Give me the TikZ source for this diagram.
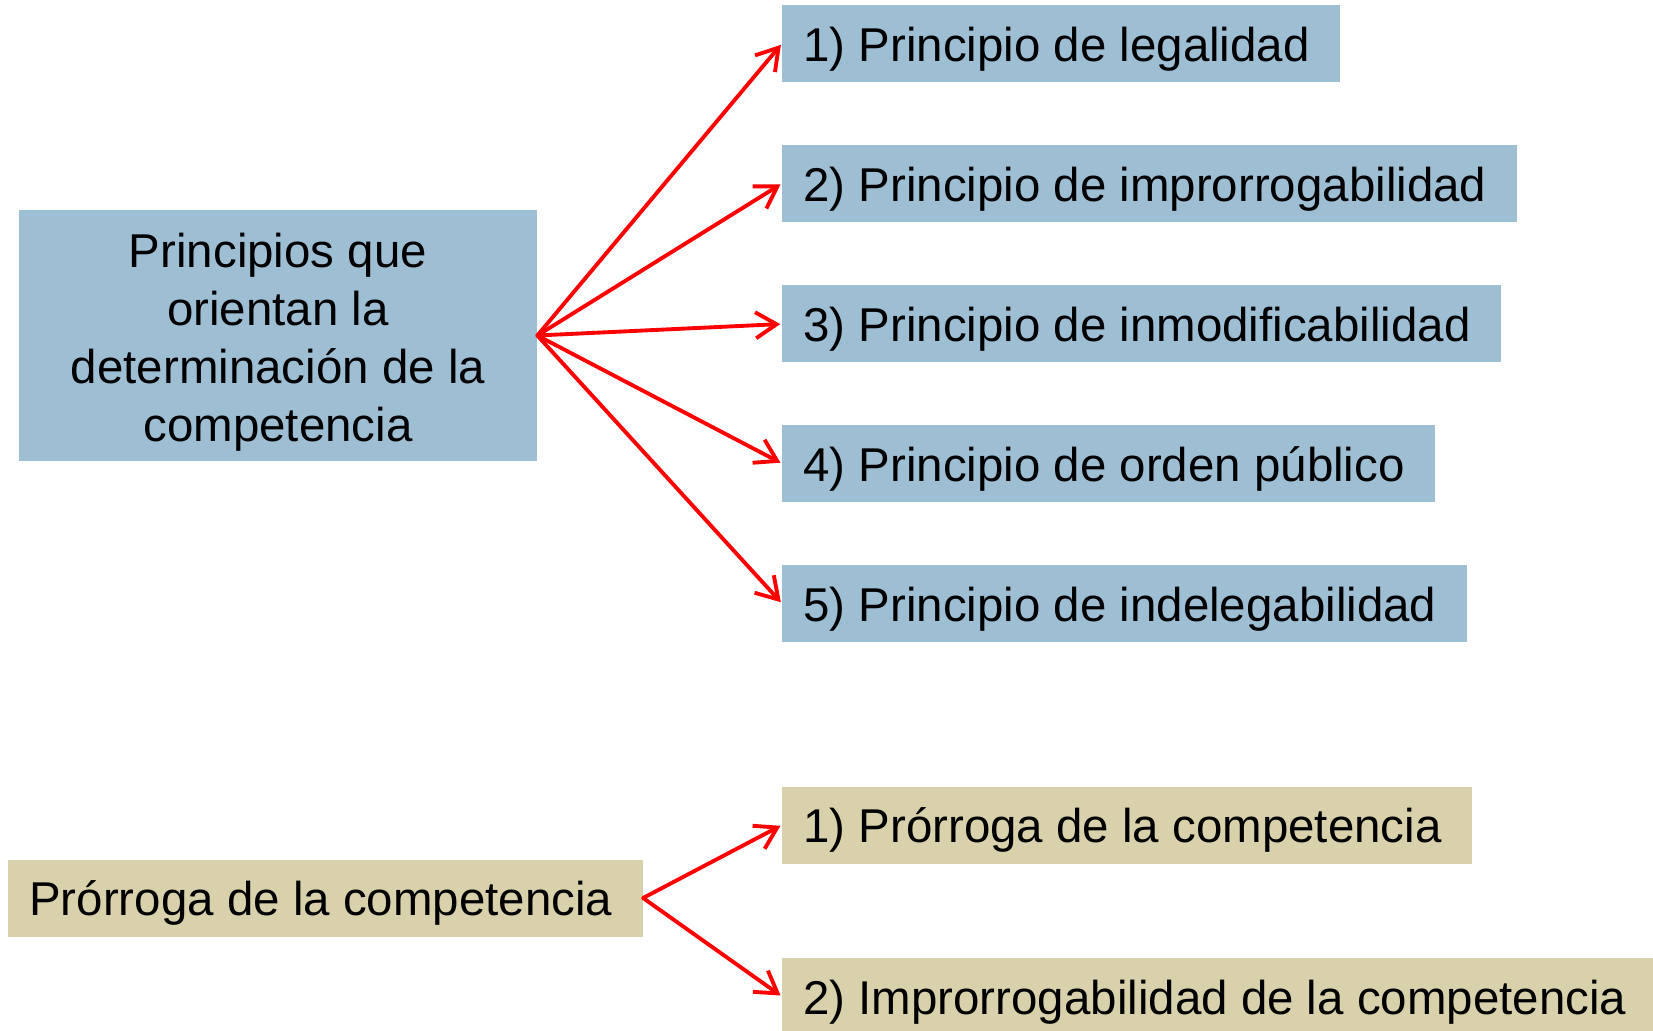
\documentclass[tikz,border=0pt]{standalone}
\usepackage{fontspec}
\setmainfont{Liberation Sans}
\usepackage{xcolor}
\usetikzlibrary{arrows.meta}

\definecolor{azul}{RGB}{158,190,212}
\definecolor{arena}{RGB}{217,209,171}

\begin{document}
\begin{tikzpicture}[shorten >=1pt,
  texto/.style={font=\fontsize{27}{33}\selectfont},
  caja/.style={texto, fill=azul, anchor=west, inner xsep=0.42cm, execute at end node={\kern0.19cm},
               text height=24.5pt, text depth=4.5pt, minimum height=1.54cm},
  cajab/.style={caja, fill=arena}]
\clip (0,0) rectangle (33.06,20.6);

\node[texto, fill=azul, align=center, minimum width=10.36cm, minimum height=5.02cm]
                (P) at (5.56,13.89) {\rule{0pt}{27pt}Principios que\\orientan la\\determinación de la\\competencia};
  \node[caja]   (P1) at (15.64,19.73) {1) Principio de legalidad};
  \node[caja]   (P2) at (15.64,16.93) {2) Principio de improrrogabilidad};
  \node[caja]   (P3) at (15.64,14.12) {3) Principio de inmodificabilidad};
  \node[caja]   (P4) at (15.64,11.33) {4) Principio de orden público};
  \node[caja]   (P5) at (15.64,8.53)  {5) Principio de indelegabilidad};

  \node[cajab]  (R)  at (0.16,2.64)   {Prórroga de la competencia};
  \node[cajab]  (R1) at (15.64,4.10)  {1) Prórroga de la competencia};
  \node[cajab]  (R2) at (15.64,0.67)  {2) Improrrogabilidad de la competencia};

  \path[->,>={Straight Barb[length=0.42cm,width=0.52cm]}, red, line width=2.2pt, line cap=round]
		(P.east) edge (P1.west)
        (P.east) edge (P2.west)
        (P.east) edge (P3.west)
        (P.east) edge (P4.west)
        (P.east) edge (P5.west)
        (R.east) edge (R1.west)
        (R.east) edge (R2.west);
\end{tikzpicture}
\end{document}
